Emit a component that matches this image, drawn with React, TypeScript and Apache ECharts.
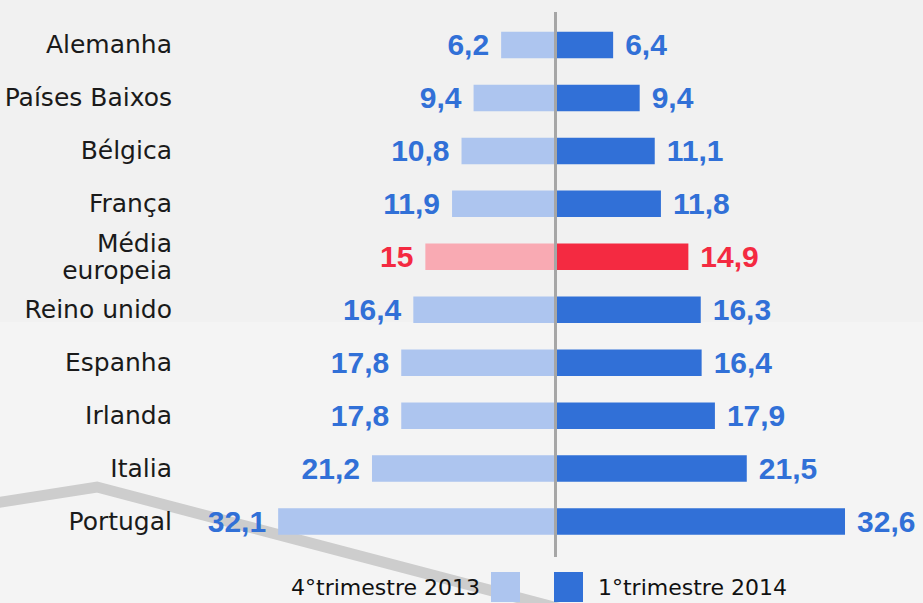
import React, { useEffect, useRef } from "react";
import * as echarts from "echarts";

const categories = [
  "Alemanha",
  "Países Baixos",
  "Bélgica",
  "França",
  "Média\neuropeia",
  "Reino unido",
  "Espanha",
  "Irlanda",
  "Italia",
  "Portugal",
];
const highlightCategory = "Média\neuropeia";
const seriesNames = ["4°trimestre 2013", "1°trimestre 2014"];
const values2013 = [6.2, 9.4, 10.8, 11.9, 15, 16.4, 17.8, 17.8, 21.2, 32.1];
const values2014 = [6.4, 9.4, 11.1, 11.8, 14.9, 16.3, 16.4, 17.9, 21.5, 32.6];

const LIGHT_BLUE = "#adc5ef";
const DARK_BLUE = "#3170d7";
const PINK = "#f9aab3";
const RED = "#f42a41";

const fmt = (v: number) => String(v).replace(".", ",");

export default function App() {
  const ref = useRef<HTMLDivElement>(null);
  useEffect(() => {
    if (!ref.current) return;
    const chart = echarts.init(ref.current, null, { renderer: "svg" });
    const labelFont = {
      fontFamily: "Liberation Sans",
      fontWeight: "bold" as const,
      fontSize: 30,
    };
    const mkData = (vals: number[], base: string, hi: string) =>
      vals.map((v, i) => {
        const isHi = categories[i] === highlightCategory;
        return {
          value: v,
          itemStyle: { color: isHi ? hi : base },
          label: { color: isHi ? RED : DARK_BLUE },
        };
      });
    const gridTop = 18.5;
    const gridHeight = 529.5;
    const legendText = {
      fontFamily: "DejaVu Sans",
      fontSize: 22,
      lineHeight: 22,
      color: "#111",
    };
    chart.setOption({
      animation: false,
      backgroundColor: "transparent",
      graphic: [
        {
          type: "rect",
          z: -10,
          silent: true,
          shape: { x: 0, y: 0, width: 923, height: 322 },
          style: { fill: "#f1f1f1" },
        },
        {
          type: "polyline",
          z: -5,
          silent: true,
          shape: {
            points: [
              [-5, 503],
              [97, 487],
              [565, 610],
            ],
          },
          style: { stroke: "#cdcdcd", lineWidth: 11, fill: null },
        },
        {
          type: "line",
          z: 100,
          silent: true,
          shape: { x1: 555.5, y1: 12, x2: 555.5, y2: 557 },
          style: { stroke: "#a6a6a6", lineWidth: 3 },
        },
      ],
      legend: [
        {
          data: [seriesNames[0]],
          align: "right",
          right: 403,
          top: 572,
          padding: 0,
          itemWidth: 29,
          itemHeight: 30,
          icon: "rect",
          textStyle: { ...legendText, padding: [0, 6, 0, 0] },
        },
        {
          data: [seriesNames[1]],
          align: "left",
          left: 554,
          top: 572,
          padding: 0,
          itemWidth: 29,
          itemHeight: 30,
          icon: "rect",
          textStyle: { ...legendText, padding: [0, 0, 0, 10] },
        },
      ],
      grid: [
        { left: 180, width: 374.5, top: gridTop, height: gridHeight },
        { left: 556.5, width: 354, top: gridTop, height: gridHeight },
      ],
      xAxis: [
        { type: "value", gridIndex: 0, min: 0, max: 43.5, inverse: true, show: false },
        { type: "value", gridIndex: 1, min: 0, max: 40, show: false },
      ],
      yAxis: [
        {
          type: "category",
          gridIndex: 0,
          data: categories,
          inverse: true,
          position: "left",
          axisLine: { show: false },
          axisTick: { show: false },
          axisLabel: {
            margin: 8,
            fontFamily: "DejaVu Sans",
            fontSize: 25,
            color: "#1a1a1a",
            lineHeight: 27,
            align: "right",
          },
        },
        {
          type: "category",
          gridIndex: 1,
          data: categories,
          inverse: true,
          axisLine: { show: false },
          axisTick: { show: false },
          axisLabel: { show: false },
        },
      ],
      series: [
        {
          name: seriesNames[0],
          type: "bar",
          xAxisIndex: 0,
          yAxisIndex: 0,
          barWidth: 26.5,
          itemStyle: { color: LIGHT_BLUE },
          label: {
            show: true,
            position: "left",
            distance: 12,
            ...labelFont,
            formatter: (p: any) => fmt(p.value),
          },
          data: mkData(values2013, LIGHT_BLUE, PINK),
        },
        {
          name: seriesNames[1],
          type: "bar",
          xAxisIndex: 1,
          yAxisIndex: 1,
          barWidth: 26.5,
          itemStyle: { color: DARK_BLUE },
          label: {
            show: true,
            position: "right",
            distance: 12,
            ...labelFont,
            formatter: (p: any) => fmt(p.value),
          },
          data: mkData(values2014, DARK_BLUE, RED),
        },
      ],
    });
    return () => chart.dispose();
  }, []);
  return (
    <div
      ref={ref}
      style={{
        position: "fixed",
        left: 0,
        top: 0,
        width: 923,
        height: 603,
        background: "#f4f4f4",
      }}
    />
  );
}
